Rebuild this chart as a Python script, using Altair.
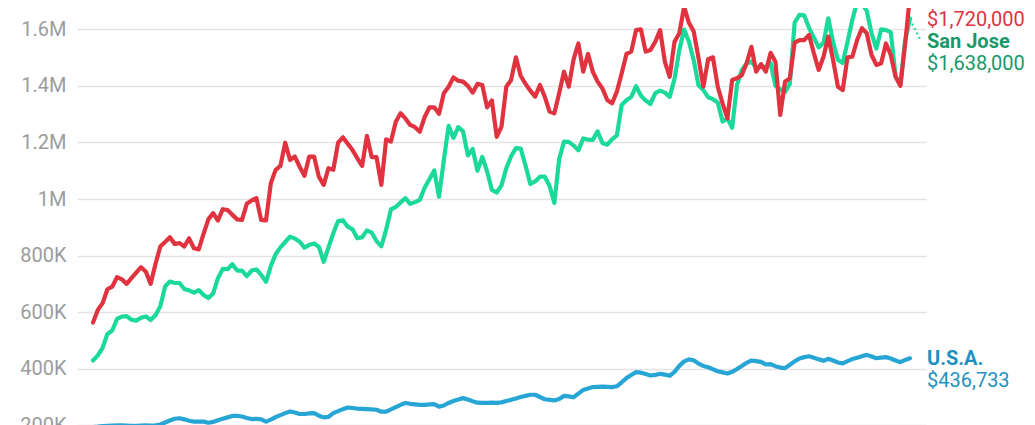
import altair as alt
import pandas as pd

# Monthly median home price, thousands of dollars
san_francisco = [
    563, 608, 632, 681, 690, 724, 716, 700, 720, 740,
    759, 743, 700, 770, 832, 848, 865, 841, 844, 832,
    861, 826, 822, 877, 928, 950, 924, 964, 961, 944,
    928, 926, 983, 995, 1003, 926, 924, 1056, 1103, 1117,
    1199, 1138, 1150, 1114, 1082, 1150, 1150, 1079, 1050, 1109,
    1103, 1199, 1218, 1195, 1173, 1144, 1117, 1223, 1148, 1148,
    1050, 1211, 1203, 1273, 1303, 1285, 1262, 1254, 1238, 1289,
    1324, 1324, 1301, 1374, 1397, 1430, 1418, 1415, 1400, 1376,
    1407, 1403, 1324, 1348, 1220, 1256, 1397, 1421, 1501, 1435,
    1407, 1383, 1362, 1403, 1362, 1309, 1303, 1374, 1450, 1397,
    1494, 1550, 1450, 1513, 1450, 1415, 1391, 1350, 1338, 1379,
    1444, 1513, 1521, 1597, 1600, 1521, 1527, 1556, 1597, 1485,
    1432, 1556, 1586, 1680, 1623, 1592, 1498, 1397, 1494, 1501,
    1397, 1338, 1285, 1421, 1427, 1438, 1480, 1538, 1450, 1477,
    1450, 1517, 1485, 1297, 1415, 1427, 1553, 1562, 1562, 1580,
    1515, 1456, 1503, 1574, 1491, 1397, 1385, 1501, 1503, 1562,
    1604, 1586, 1509, 1474, 1480, 1550, 1509, 1432, 1400, 1550,
    1720,
]
san_jose = [
    429, 447, 474, 523, 535, 576, 584, 586, 573, 570,
    580, 585, 572, 589, 621, 691, 708, 703, 703, 682,
    677, 669, 678, 661, 650, 666, 720, 753, 752, 769,
    747, 747, 727, 747, 751, 732, 707, 763, 805, 829,
    848, 867, 860, 849, 828, 838, 843, 831, 778, 829,
    879, 922, 925, 902, 893, 861, 865, 889, 881, 851,
    833, 892, 963, 972, 988, 1003, 983, 989, 997, 1040,
    1070, 1101, 1008, 1138, 1259, 1216, 1254, 1239, 1154, 1177,
    1100, 1149, 1098, 1032, 1023, 1048, 1109, 1151, 1180, 1178,
    1118, 1053, 1062, 1079, 1079, 1046, 986, 1141, 1203, 1202,
    1189, 1172, 1214, 1210, 1209, 1239, 1198, 1192, 1211, 1225,
    1332, 1349, 1361, 1399, 1366, 1348, 1336, 1374, 1383, 1376,
    1361, 1425, 1527, 1599, 1557, 1490, 1402, 1385, 1360, 1353,
    1341, 1274, 1285, 1252, 1403, 1456, 1479, 1486, 1463, 1472,
    1465, 1481, 1400, 1388, 1378, 1408, 1624, 1651, 1649, 1605,
    1570, 1536, 1552, 1639, 1554, 1492, 1481, 1555, 1633, 1697,
    1690, 1665, 1586, 1532, 1600, 1597, 1590, 1433, 1405, 1562,
    1638,
]
usa = [
    194, 195, 197, 198, 199, 200, 200, 199, 198, 198,
    199, 200, 199, 200, 203, 210, 217, 223, 225, 221,
    216, 213, 213, 213, 209, 212, 218, 223, 228, 233,
    233, 231, 226, 222, 223, 221, 213, 220, 229, 236,
    243, 249, 245, 240, 240, 242, 243, 234, 228, 230,
    243, 250, 257, 263, 261, 259, 258, 257, 256, 255,
    248, 248, 256, 264, 272, 279, 276, 274, 272, 272,
    274, 275, 266, 270, 279, 286, 291, 296, 291, 285,
    280, 279, 279, 280, 279, 281, 286, 290, 295, 300,
    304, 308, 308, 300, 292, 290, 288, 293, 304, 302,
    299, 312, 325, 330, 335, 336, 337, 336, 335, 338,
    352, 367, 378, 388, 386, 381, 376, 378, 382, 379,
    375, 389, 410, 426, 433, 430, 418, 410, 405, 398,
    391, 387, 383, 389, 399, 410, 421, 429, 427, 424,
    415, 416, 409, 404, 402, 414, 426, 436, 441, 444,
    439, 433, 428, 435, 429, 422, 419, 427, 434, 439,
    444, 449, 443, 437, 439, 441, 436, 429, 423, 431,
    436.733,
]
y_ticks = [200, 400, 600, 800, 1000, 1200, 1400, 1600]

FONT = "Roboto"
RED_LINE, RED_TEXT = "#e0333f", "#e0333f"
GREEN_LINE, GREEN_TEXT = "#1ad99b", "#17996a"
BLUE_LINE, BLUE_TEXT = "#27a6d6", "#1e91c2"

n = len(san_francisco)
idx = list(range(n))
df = pd.DataFrame({
    "i": idx * 3,
    "v": usa + san_jose + san_francisco,
    "s": ["U.S.A."] * n + ["San Jose"] * n + ["San Francisco"] * n,
})


def money(v):
    return "${:,}".format(int(round(v * 1000)))


last = n - 1
labels = pd.DataFrame({
    "s": ["U.S.A.", "San Jose", "San Francisco"],
    "i": [last, last, last],
    "v": [usa[-1], san_jose[-1], san_francisco[-1]],
    "amount": [money(usa[-1]), money(san_jose[-1]), money(san_francisco[-1])],
})

x_scale = alt.Scale(domain=[-3.33, last + 3.33], nice=False, zero=False)
y_scale = alt.Scale(domain=[197.5, 1675.3], nice=False, zero=False)

x_enc = alt.X("i:Q", scale=x_scale, axis=None)
y_enc = alt.Y(
    "v:Q", scale=y_scale,
    axis=alt.Axis(
        values=y_ticks, title=None, domain=False, ticks=False, grid=True,
        gridColor="#e3e3e3", gridWidth=1.5, labelFont=FONT, labelFontSize=20,
        labelColor="#9c9c9c", labelPadding=11,
        labelExpr="datum.value >= 1000 ? (datum.value / 1000) + 'M' : datum.value + 'K'",
    ),
)

base = alt.Chart(df)


def line(name, color):
    return base.transform_filter(alt.datum.s == name).mark_line(
        color=color, strokeWidth=4.2, strokeJoin="round", strokeCap="round", clip=True
    ).encode(x=x_enc, y=y_enc)


lab = alt.Chart(labels)


def text(name, field, color, dy, bold):
    return lab.transform_filter(alt.datum.s == name).mark_text(
        align="left", baseline="alphabetic", dx=17, dy=dy, font=FONT, fontSize=20,
        fontWeight="bold" if bold else "normal", color=color,
    ).encode(x=alt.X("i:Q", scale=x_scale, axis=None),
             y=alt.Y("v:Q", scale=y_scale), text=field)


def fixed_text(name, words, color, dy, bold):
    return lab.transform_filter(alt.datum.s == name).mark_text(
        align="left", baseline="alphabetic", dx=17, dy=dy, font=FONT, fontSize=20,
        fontWeight="bold" if bold else "normal", color=color, text=words,
    ).encode(x=alt.X("i:Q", scale=x_scale, axis=None),
             y=alt.Y("v:Q", scale=y_scale))


# dotted leader from the San Jose end point toward its label
leader = pd.DataFrame({
    "i": [last + 0.45], "v": [san_jose[-1] - 18],
    "i2": [last + 2.2], "v2": [san_jose[-1] - 76],
})
leader_rule = alt.Chart(leader).mark_rule(
    color=GREEN_LINE, strokeWidth=2, strokeDash=[2, 3]
).encode(
    x=alt.X("i:Q", scale=x_scale, axis=None), x2="i2:Q",
    y=alt.Y("v:Q", scale=y_scale), y2="v2:Q",
)

chart = alt.layer(
    line("U.S.A.", BLUE_LINE),
    line("San Jose", GREEN_LINE),
    line("San Francisco", RED_LINE),
    leader_rule,
    fixed_text("U.S.A.", "U.S.A.", BLUE_TEXT, 6.6, True),
    text("U.S.A.", "amount:N", BLUE_TEXT, 29, False),
    fixed_text("San Jose", "San Jose", GREEN_TEXT, 29.5, True),
    text("San Jose", "amount:N", GREEN_TEXT, 51.5, False),
    fixed_text("San Francisco", "San", RED_TEXT, -14.3, True),
    fixed_text("San Francisco", "Francisco", RED_TEXT, 8.7, True),
    text("San Francisco", "amount:N", RED_TEXT, 30.7, False),
).properties(
    width=849, height=418,
    autosize=alt.AutoSizeParams(type="none"),
    padding={"left": 69, "top": 0, "right": 101, "bottom": 0},
).configure(font=FONT).configure_view(stroke=None)

chart.save("out.html", embed_options={"renderer": "svg", "actions": False})
